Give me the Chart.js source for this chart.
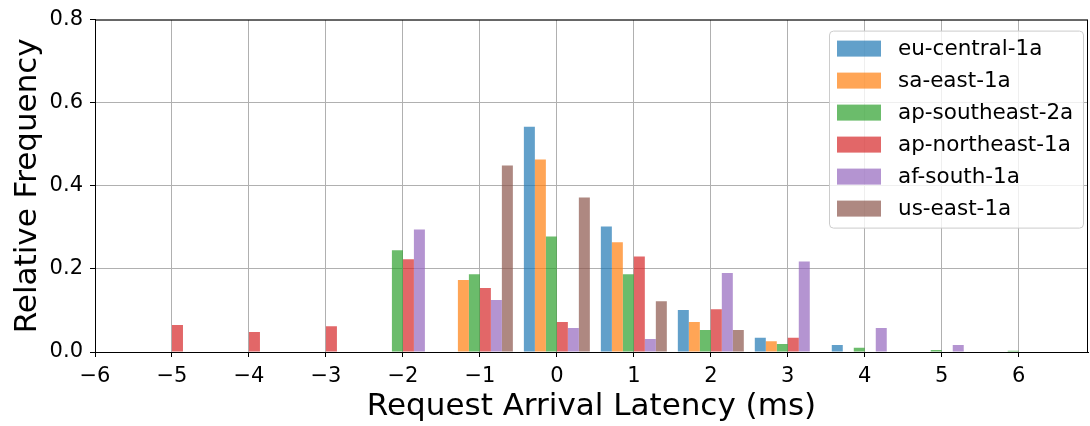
<!DOCTYPE html>
<html>
<head>
<meta charset="utf-8">
<script src="https://cdn.jsdelivr.net/npm/chart.js@4"></script>
<style>
  html, body { margin: 0; padding: 0; background: #fff; }
</style>
</head>
<body>
<canvas id="myChart" width="1090" height="426"></canvas>
<script>
// histogram bins (ms) and relative frequency per region
const bins = [-5, -4, -3, -2, -1, 0, 1, 2, 3, 4, 5, 6];
const euCentral1a    = [0, 0, 0, 0, 0, 0.542, 0.302, 0.101, 0.034, 0.017, 0, 0];
const saEast1a       = [0, 0, 0, 0, 0.173, 0.463, 0.264, 0.072, 0.026, 0, 0, 0];
const apSoutheast2a  = [0, 0, 0, 0.245, 0.187, 0.278, 0.187, 0.053, 0.019, 0.010, 0.005, 0.003];
const apNortheast1a  = [0.065, 0.048, 0.062, 0.223, 0.154, 0.072, 0.230, 0.103, 0.034, 0, 0, 0];
const afSouth1a      = [0, 0, 0, 0.295, 0.125, 0.058, 0.031, 0.190, 0.218, 0.058, 0.017, 0];
const usEast1a       = [0, 0, 0, 0, 0.449, 0.372, 0.122, 0.053, 0, 0, 0, 0];

const regions = ["eu-central-1a", "sa-east-1a", "ap-southeast-2a", "ap-northeast-1a", "af-south-1a", "us-east-1a"];
const series = [euCentral1a, saEast1a, apSoutheast2a, apNortheast1a, afSouth1a, usEast1a];
const colors = [
    "rgba(31,119,180,0.7)",
    "rgba(255,127,14,0.7)",
    "rgba(44,160,44,0.7)",
    "rgba(214,39,40,0.7)",
    "rgba(148,103,189,0.7)",
    "rgba(140,86,75,0.7)",
];

const FONT = "'DejaVu Sans', sans-serif";

// full black frame round the plot area, like matplotlib spines
const frame = {
    id: "frame",
    afterDraw(chart) {
        const { ctx, chartArea: a } = chart;
        ctx.save();
        ctx.strokeStyle = "#000";
        ctx.lineWidth = 1;
        ctx.strokeRect(a.left + 0.5, a.top + 0.5, a.right - a.left - 1, a.bottom - a.top);
        ctx.restore();
    },
};

// legend box drawn inside the upper right corner
const boxLegend = {
    id: "boxLegend",
    afterDraw(chart) {
        const { ctx, chartArea: a } = chart;
        const w = 254, h = 197;
        const x0 = a.right - 5 - w, y0 = a.top + 11;
        ctx.save();
        ctx.fillStyle = "rgba(255,255,255,0.8)";
        ctx.strokeStyle = "#cccccc";
        ctx.lineWidth = 1;
        ctx.beginPath();
        ctx.roundRect(x0 + 0.5, y0 + 0.5, w, h, 4);
        ctx.fill();
        ctx.stroke();
        ctx.font = "21.5px " + FONT;
        ctx.textBaseline = "middle";
        chart.data.datasets.forEach((ds, i) => {
            const y = y0 + 18 + i * 32;
            ctx.fillStyle = ds.backgroundColor;
            ctx.fillRect(x0 + 8, y - 8, 44, 16);
            ctx.fillStyle = "#000";
            ctx.fillText(ds.label, x0 + 69, y + 1);
        });
        ctx.restore();
    },
};

let myChart = document.getElementById("myChart").getContext("2d");

let histChart = new Chart(myChart, {
    type: "bar",
    data: {
        datasets: regions.map((name, i) => ({
            label: name,
            data: bins.map((b, j) => ({ x: b, y: series[i][j] })),
            backgroundColor: colors[i],
            borderWidth: 0,
            barPercentage: 1.0,
            categoryPercentage: 6 / 7,
        })),
    },
    options: {
        responsive: false,
        animation: false,
        layout: { padding: { top: 18, right: 2, left: 0, bottom: 0 } },
        plugins: {
            legend: { display: false },
            tooltip: { enabled: false },
        },
        scales: {
            x: {
                type: "linear",
                min: -6,
                max: 6.9,
                offset: false,
                afterFit: (s) => { s.height = 74; },
                grid: { offset: false, color: "#b0b0b0", tickColor: "#000", tickLength: 5, lineWidth: 1 },
                border: { color: "#000", width: 1 },
                ticks: {
                    stepSize: 1,
                    includeBounds: false,
                    padding: 7,
                    color: "#000",
                    font: { size: 21, family: FONT },
                    callback: (v) => String(v).replace("-", "\u2212"),
                },
                title: {
                    display: true,
                    text: "Request Arrival Latency (ms)",
                    color: "#000",
                    font: { size: 31, family: FONT },
                    padding: { top: 3, bottom: 0 },
                },
            },
            y: {
                min: 0,
                max: 0.8,
                afterFit: (s) => { s.width = 95; },
                grid: { color: "#b0b0b0", tickColor: "#000", tickLength: 5, lineWidth: 1 },
                border: { color: "#000", width: 1 },
                ticks: {
                    stepSize: 0.2,
                    padding: 7,
                    color: "#000",
                    font: { size: 21, family: FONT },
                    callback: (v) => v.toFixed(1),
                },
                title: {
                    display: true,
                    text: "Relative Frequency",
                    color: "#000",
                    font: { size: 31, family: FONT },
                    padding: { top: 9, bottom: 0 },
                },
            },
        },
    },
    plugins: [frame, boxLegend],
});
</script>
</body>
</html>
